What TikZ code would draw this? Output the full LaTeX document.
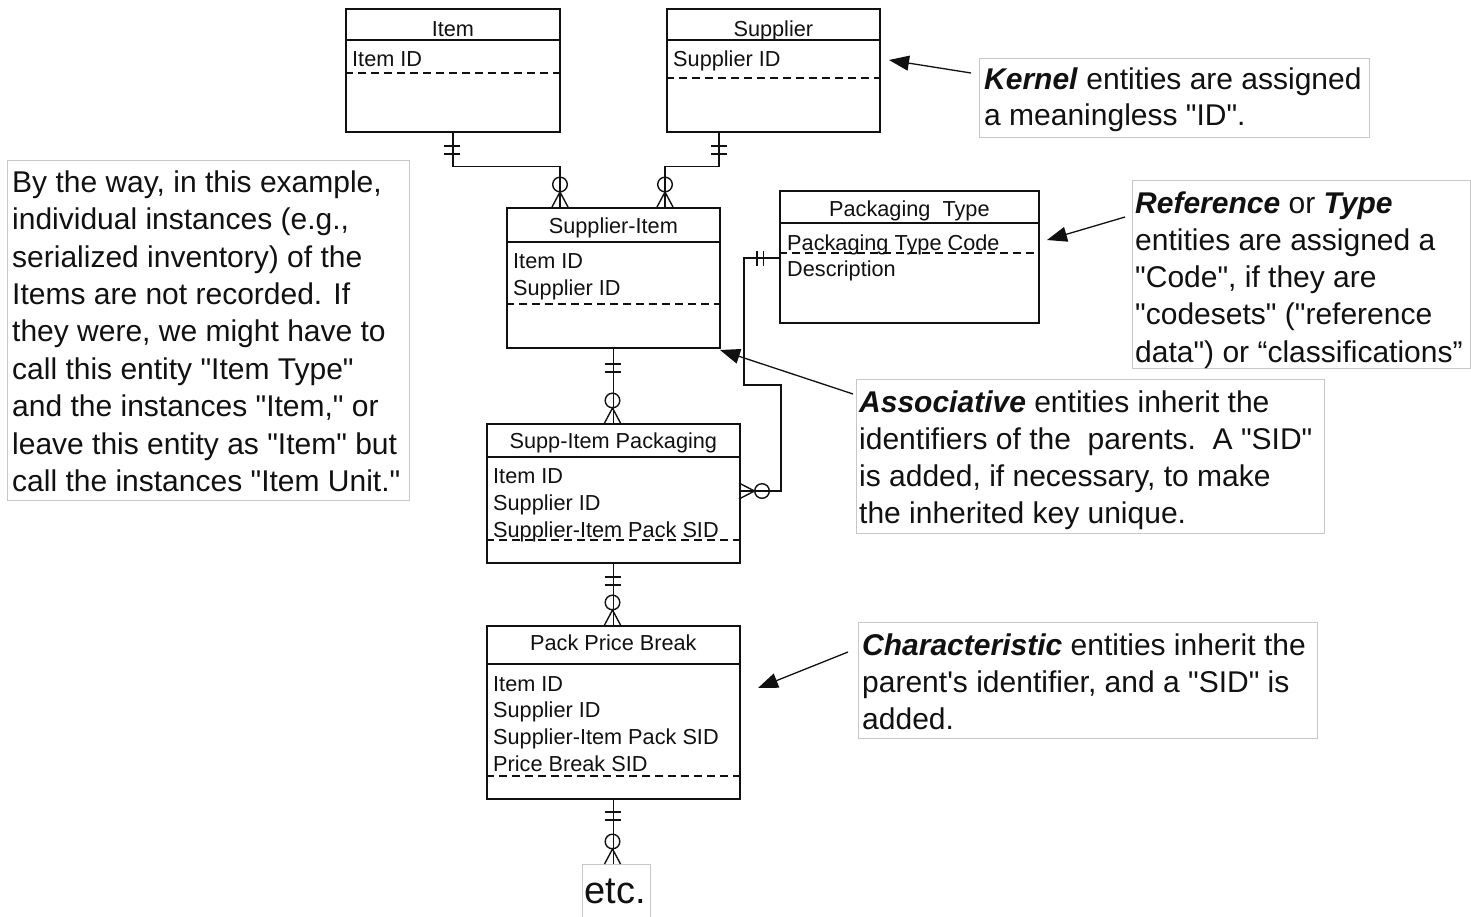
\documentclass[tikz,border=0pt]{standalone}
\usepackage{fontspec}
\setmainfont{Liberation Sans}
\usetikzlibrary{calc,arrows.meta}
\definecolor{ink}{HTML}{111111}
\definecolor{boxgray}{HTML}{C8C8C8}
\newcommand\qq{\textquotedbl}
\newcommand\topA{\rule{0pt}{24pt}}
\newcommand\topF{\rule{0pt}{17pt}}
\begin{document}
\begin{tikzpicture}[x=1pt,y=-1pt,
  ent/.style={draw=ink, line width=1.7pt, fill=white, inner sep=0pt, anchor=north west},
  sepline/.style={draw=ink, line width=1.7pt},
  keyline/.style={draw=ink, line width=1.4pt, dash pattern=on 8pt off 5pt},
  etitle/.style={font=\fontsize{21.7}{27}\selectfont, anchor=base, inner sep=0pt, text=ink},
  efield/.style={font=\fontsize{21.7}{27}\selectfont, align=left, anchor=north west, inner sep=0pt, text=ink},
  conn/.style={draw=ink, line width=1.4pt},
  abox/.style={draw=boxgray, line width=1pt, fill=white, inner sep=0pt, anchor=north west},
  anno/.style={font=\fontsize{30}{37.2}\selectfont, align=left, anchor=north west, inner sep=0pt, text=ink},
  ptr/.style={draw=ink, line width=1.3pt, -{Triangle[length=20pt,width=15pt]}},
  barsv/.pic={\draw[conn] (-8,0)--(8,0) (-8,8)--(8,8);},
  crowv/.pic={\draw[conn] (0,-22.5) circle[radius=7.3pt]; \draw[conn] (-8,0)--(0,-15)--(8,0);},
  barsh/.pic={\draw[conn] (0,-7.5)--(0,7.5) (6.5,-7.5)--(6.5,7.5);},
  crowh/.pic={\draw[conn] (23,0) circle[radius=7.3pt]; \draw[conn] (0,-8)--(15.5,0)--(0,8);}
]
\path[fill=white] (0,0) rectangle (1471,916);
\useasboundingbox (0,0) rectangle (1471,916);

% ---------- entities ----------
% Item
\node[ent, minimum width=214pt, minimum height=123pt] (item) at (345,8) {};
\draw[sepline] ($(item.north west)+(0,32)$) -- ($(item.north east)+(0,32)$);
\draw[keyline] ($(item.north west)+(0,65)$) -- ($(item.north east)+(0,65)$);
\node[etitle] (itemT) at ($(item.north)+(0,28)$) {Item};
\node[efield] (itemF) at (352,66-17) {\topF Item ID};

% Supplier
\node[ent, minimum width=213pt, minimum height=123pt] (sup) at (666,8) {};
\draw[sepline] ($(sup.north west)+(0,32)$) -- ($(sup.north east)+(0,32)$);
\draw[keyline] ($(sup.north west)+(0,70)$) -- ($(sup.north east)+(0,70)$);
\node[etitle] (supT) at ($(sup.north)+(0,28)$) {Supplier};
\node[efield] (supF) at (673,66-17) {\topF Supplier ID};

% Supplier-Item
\node[ent, minimum width=213pt, minimum height=140pt] (si) at (506,207) {};
\draw[sepline] ($(si.north west)+(0,35)$) -- ($(si.north east)+(0,35)$);
\draw[keyline] ($(si.north west)+(0,97)$) -- ($(si.north east)+(0,97)$);
\node[etitle] (siT) at ($(si.north)+(0,26)$) {Supplier-Item};
\node[efield] (siF) at (513,268-17) {\topF Item ID\\Supplier ID};

% Packaging Type
\node[ent, minimum width=259pt, minimum height=132pt] (pt) at (779,190) {};
\draw[sepline] ($(pt.north west)+(0,33)$) -- ($(pt.north east)+(0,33)$);
\node[etitle] (ptT) at ($(pt.north)+(0,26)$) {Packaging\ \ Type};
\node[efield, font=\fontsize{21.7}{26}\selectfont] (ptF) at (787,250-17) {\topF Packaging Type Code\\Description};
\draw[keyline] ($(pt.north west)+(0,63)$) -- ($(pt.north east)+(0,63)$);

% Supp-Item Packaging
\node[ent, minimum width=253pt, minimum height=139pt] (sip) at (486,423) {};
\draw[sepline] ($(sip.north west)+(0,34)$) -- ($(sip.north east)+(0,34)$);
\node[etitle] (sipT) at ($(sip.north)+(0,25)$) {Supp-Item Packaging};
\node[efield] (sipF) at (493,483-17) {\topF Item ID\\Supplier ID\\Supplier-Item Pack SID};
\draw[keyline] ($(sip.north west)+(0,117)$) -- ($(sip.north east)+(0,117)$);

% Pack Price Break
\node[ent, minimum width=253pt, minimum height=173pt] (ppb) at (486,625) {};
\draw[sepline] ($(ppb.north west)+(0,39)$) -- ($(ppb.north east)+(0,39)$);
\node[etitle] (ppbT) at ($(ppb.north)+(0,25)$) {Pack Price Break};
\node[efield, font=\fontsize{21.7}{26.7}\selectfont] (ppbF) at (493,691-17) {\topF Item ID\\Supplier ID\\Supplier-Item Pack SID\\Price Break SID};
\draw[keyline] ($(ppb.north west)+(0,151)$) -- ($(ppb.north east)+(0,151)$);

% etc.
\node[abox, minimum width=68pt, minimum height=60pt] (etcbox) at (582,864) {};
\node[font=\fontsize{38}{44}\selectfont, anchor=base, inner sep=0pt, text=ink] (etc) at (615,903) {etc.};

% ---------- relationships ----------
\draw[conn] (item.south) -- ++(0,34) -| ($(si.north west)+(54,0)$);
\pic at (452,146) {barsv};
\pic at (560,207) {crowv};

\draw[conn] ($(sup.south west)+(53,0)$) -- ++(0,34) -| ($(si.north west)+(159,0)$);
\pic at (719,146) {barsv};
\pic at (665,207) {crowv};

\draw[conn] (si.south) -- (sip.north);
\pic at (612.5,364) {barsv};
\pic at (612.5,423) {crowv};

\draw[conn] (sip.south) -- (ppb.north);
\pic at (612.5,577) {barsv};
\pic at (612.5,625) {crowv};

\draw[conn] (ppb.south) -- (ppb.south |- etcbox.north);
\pic at (612.5,812) {barsv};
\pic at (612.5,864) {crowv};

\draw[conn] ($(pt.north west)+(0,68)$) -- (744,258) -- (744,385) -- (781,385) -- (781,491) -- ($(sip.north east)+(0,68)$);
\pic at (757,258) {barsh};
\pic at (739,491) {crowh};

% ---------- annotations ----------
\node[abox, minimum width=402pt, minimum height=340pt] (btwbox) at (7,160) {};
\node[anno, font=\fontsize{30}{37.4}\selectfont] (btw) at (12,192-24) {\topA By the way, in this example,\\individual instances (e.g.,\\serialized inventory) of the\\Items are not recorded. If\\they were, we might have to\\call this entity \qq Item Type\qq\\and the instances \qq Item,\qq\ or\\leave this entity as \qq Item\qq\ but\\call the instances \qq Item Unit.\qq};

\node[abox, minimum width=390pt, minimum height=79pt] (kbox) at (979,58) {};
\node[anno, font=\fontsize{30}{36}\selectfont] (kern) at (984,89-24) {\topA\textbf{\textit{Kernel}} entities are assigned\\a meaningless \qq ID\qq.};

\node[abox, minimum width=338pt, minimum height=188pt] (rbox) at (1132,180) {};
\node[anno] (ref) at (1135,213-24) {\topA\textbf{\textit{Reference}} or \textbf{\textit{Type}}\\entities are assigned a\\\qq Code\qq, if they are\\\qq codesets\qq\ (\qq reference\\data\qq) or “classifications”};

\node[abox, minimum width=468pt, minimum height=154pt] (abx) at (856,379) {};
\node[anno] (assoc) at (859,412-24) {\topA\textbf{\textit{Associative}} entities inherit the\\identifiers of the\ \ parents.\ \ A \qq SID\qq\\is added, if necessary, to make\\the inherited key unique.};

\node[abox, minimum width=459pt, minimum height=116pt] (cbox) at (858,622) {};
\node[anno] (charc) at (862,655-24) {\topA\textbf{\textit{Characteristic}} entities inherit the\\parent\textquotesingle s identifier, and a \qq SID\qq\ is\\added.};

% ---------- pointer arrows ----------
\coordinate (k0) at (971,73);   \coordinate (k1) at (889,60);
\coordinate (r0) at (1125,217); \coordinate (r1) at (1047,240);
\coordinate (a0) at (853,394);  \coordinate (a1) at (720,350);
\coordinate (c0) at (848,652);  \coordinate (c1) at (758,688);
\draw[ptr] (k0) -- (k1);
\draw[ptr] (r0) -- (r1);
\draw[ptr] (a0) -- (a1);
\draw[ptr] (c0) -- (c1);
\end{tikzpicture}
\end{document}
